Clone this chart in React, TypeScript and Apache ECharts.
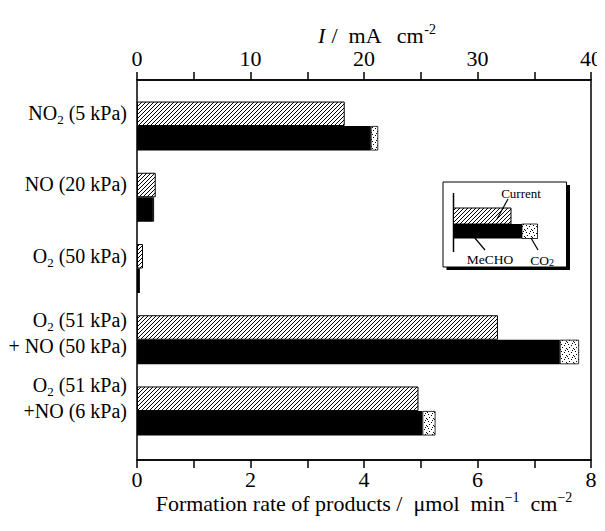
import React, { useEffect, useRef } from 'react';
import * as echarts from 'echarts';

const categories = ['NO2 (5 kPa)', 'NO (20 kPa)', 'O2 (50 kPa)', 'O2 (51 kPa) + NO (50 kPa)', 'O2 (51 kPa) +NO (6 kPa)'];
const categoryLabels = [
  '{t|NO}{sub|2}{t| (5 kPa)}',
  '{t|NO (20 kPa)}',
  '{t|O}{sub|2}{t| (50 kPa)}',
  '{sp| }\n{t|O}{sub|2}{t| (51 kPa)}\n{t|+ NO (50 kPa)}',
  '{t|O}{sub|2}{t| (51 kPa)}\n{t|+NO (6 kPa)}',
];
// current density, mA cm-2 (top axis)
const currentValues = [18.3, 1.65, 0.53, 31.8, 24.8];
// formation rates, umol min-1 cm-2 (bottom axis)
const mechoValues = [4.12, 0.28, 0.04, 7.45, 5.03];
const co2Values = [0.13, 0.02, 0.0, 0.34, 0.23];
const topTickLabels = [0, 10, 20, 30, 40];
const bottomTickLabels = [0, 2, 4, 6, 8];

const FONT = "'Liberation Serif', 'Times New Roman', serif";

function makeHatch(): HTMLCanvasElement {
  const c = document.createElement('canvas');
  c.width = 4;
  c.height = 4;
  const ctx = c.getContext('2d')!;
  ctx.fillStyle = '#fff';
  ctx.fillRect(0, 0, 4, 4);
  ctx.strokeStyle = '#000';
  ctx.lineWidth = 1;
  ctx.beginPath();
  ctx.moveTo(-1, 5); ctx.lineTo(5, -1);
  ctx.moveTo(-1, 1); ctx.lineTo(1, -1);
  ctx.moveTo(3, 5); ctx.lineTo(5, 3);
  ctx.stroke();
  return c;
}

function makeDots(): HTMLCanvasElement {
  const c = document.createElement('canvas');
  c.width = 7;
  c.height = 7;
  const ctx = c.getContext('2d')!;
  ctx.fillStyle = '#fff';
  ctx.fillRect(0, 0, 7, 7);
  ctx.fillStyle = '#000';
  const pts = [[1, 1], [4, 2], [2, 4], [6, 5], [5, 0], [0, 6]];
  pts.forEach(([x, y]) => ctx.fillRect(x, y, 1, 1));
  return c;
}

export default function App() {
  const ref = useRef<HTMLDivElement>(null);
  useEffect(() => {
    if (!ref.current) return;
    const chart = echarts.init(ref.current, null, { renderer: 'svg' });
    const hatch = makeHatch();
    const dots = makeDots();
    const hatchFill: any = { image: hatch, repeat: 'repeat' };
    const dotFill: any = { image: dots, repeat: 'repeat' };
    const labelRich = {
      t: { fontFamily: FONT, fontSize: 20, color: '#000', lineHeight: 26 },
      sub: { fontFamily: FONT, fontSize: 13, color: '#000', lineHeight: 26, verticalAlign: 'bottom' },
      sp: { fontFamily: FONT, fontSize: 10, color: '#000', lineHeight: 13 },
    };
    const option: any = {
      animation: false,
      backgroundColor: '#fff',
      grid: [
        { left: 137, right: 14, top: 80, bottom: 71, show: true, borderColor: '#000', borderWidth: 1.5, backgroundColor: 'transparent' },
        { left: 137, right: 14, top: 90.4, bottom: 84.4, show: false },
      ],
      xAxis: [
        {
          gridIndex: 0, type: 'value', position: 'bottom', min: 0, max: 8, interval: 1,
          axisLine: { show: true, lineStyle: { color: '#000', width: 1.5 } },
          axisTick: { show: true, inside: false, length: 8, lineStyle: { color: '#000', width: 1.5 } },
          axisLabel: {
            formatter: (v: number) => (bottomTickLabels.includes(v) ? String(v) : ''),
            color: '#000', fontFamily: FONT, fontSize: 22, margin: 8,
          },
          splitLine: { show: false },
          name: '{n|Formation rate of products /  μmol  min}{sup|−1}{n|  cm}{sup|−2}',
          nameLocation: 'middle', nameGap: 30, nameMoveOverlap: false,
          nameTextStyle: {
            rich: {
              n: { fontFamily: FONT, fontSize: 22, color: '#000', lineHeight: 24, verticalAlign: 'bottom' },
              sup: { fontFamily: FONT, fontSize: 14, color: '#000', lineHeight: 24, verticalAlign: 'top' },
            },
          },
        },
        {
          gridIndex: 0, type: 'value', position: 'top', min: 0, max: 40, interval: 5,
          axisLine: { show: true, lineStyle: { color: '#000', width: 1.5 } },
          axisTick: { show: true, inside: false, length: 8, lineStyle: { color: '#000', width: 1.5 } },
          axisLabel: {
            formatter: (v: number) => (topTickLabels.includes(v) ? String(v) : ''),
            color: '#000', fontFamily: FONT, fontSize: 22, margin: 11,
          },
          splitLine: { show: false },
          name: '{i|I}{n| /  mA   cm}{sup|-2}',
          nameLocation: 'middle', nameGap: 34, nameMoveOverlap: false,
          nameTextStyle: {
            padding: [0, 0, 0, 26],
            rich: {
              i: { fontFamily: FONT, fontStyle: 'italic', fontSize: 22, color: '#000', lineHeight: 24, verticalAlign: 'bottom' },
              n: { fontFamily: FONT, fontSize: 22, color: '#000', lineHeight: 24, verticalAlign: 'bottom' },
              sup: { fontFamily: FONT, fontSize: 14, color: '#000', lineHeight: 24, verticalAlign: 'top' },
            },
          },
        },
        { gridIndex: 1, type: 'value', min: 0, max: 40, show: false },
        { gridIndex: 1, type: 'value', min: 0, max: 8, show: false },
      ],
      yAxis: [
        { gridIndex: 0, type: 'value', show: false, min: 0, max: 1 },
        {
          gridIndex: 1, type: 'category', data: categories, inverse: true,
          axisLine: { show: false }, axisTick: { show: false }, splitLine: { show: false },
          axisLabel: {
            margin: 10,
            padding: [0, 0, 26, 0],
            formatter: (_v: string, i: number) => categoryLabels[i],
            rich: labelRich,
          },
        },
      ],
      series: [
        {
          name: 'Current', type: 'bar', xAxisIndex: 2, yAxisIndex: 1, data: currentValues,
          barWidth: 24.5, barGap: '0%',
          itemStyle: { color: hatchFill, borderColor: '#000', borderWidth: 1 },
        },
        {
          name: 'MeCHO', type: 'bar', xAxisIndex: 3, yAxisIndex: 1, data: mechoValues, stack: 'rate',
          barWidth: 24.5, barGap: '0%',
          itemStyle: { color: '#000' },
        },
        {
          name: 'CO2', type: 'bar', xAxisIndex: 3, yAxisIndex: 1, data: co2Values, stack: 'rate',
          barWidth: 24.5, barGap: '0%',
          itemStyle: { color: dotFill, borderColor: '#000', borderWidth: 0.8 },
        },
      ],
      graphic: [
        { type: 'rect', shape: { x: 446.5, y: 185, width: 123.5, height: 85 }, style: { fill: '#000' }, z: 10 },
        { type: 'rect', shape: { x: 443, y: 182, width: 123.5, height: 85 }, style: { fill: '#fff', stroke: '#000', lineWidth: 1 }, z: 11 },
        { type: 'line', shape: { x1: 453.5, y1: 193, x2: 453.5, y2: 252 }, style: { stroke: '#000', lineWidth: 1.5 }, z: 12 },
        { type: 'rect', shape: { x: 453.5, y: 208, width: 57.5, height: 16 }, style: { fill: hatchFill, stroke: '#000', lineWidth: 1 }, z: 12 },
        { type: 'rect', shape: { x: 453.5, y: 224, width: 68.5, height: 14.5 }, style: { fill: '#000' }, z: 12 },
        { type: 'rect', shape: { x: 522, y: 224, width: 15.5, height: 14.5 }, style: { fill: dotFill, stroke: '#000', lineWidth: 0.8 }, z: 12 },
        { type: 'line', shape: { x1: 497, y1: 219, x2: 508, y2: 199 }, style: { stroke: '#000', lineWidth: 1.2 }, z: 13 },
        { type: 'line', shape: { x1: 474, y1: 237, x2: 485, y2: 250 }, style: { stroke: '#000', lineWidth: 1.2 }, z: 13 },
        { type: 'line', shape: { x1: 531, y1: 238, x2: 538, y2: 250 }, style: { stroke: '#000', lineWidth: 1.2 }, z: 13 },
        {
          type: 'text', x: 521, y: 193, z: 13,
          style: { text: 'Current', font: `13px ${FONT}`, fill: '#000', textAlign: 'center', textVerticalAlign: 'middle', align: 'center', verticalAlign: 'middle' },
        },
        {
          type: 'text', x: 490, y: 259, z: 13,
          style: { text: 'MeCHO', font: `13.5px ${FONT}`, fill: '#000', textAlign: 'center', textVerticalAlign: 'middle', align: 'center', verticalAlign: 'middle' },
        },
        {
          type: 'text', x: 542, y: 259, z: 13,
          style: {
            text: '{a|CO}{s|2}', fill: '#000', textAlign: 'center', textVerticalAlign: 'middle', align: 'center', verticalAlign: 'middle',
            rich: {
              a: { fontFamily: FONT, fontSize: 13.5, fill: '#000', lineHeight: 16, verticalAlign: 'bottom' },
              s: { fontFamily: FONT, fontSize: 10, fill: '#000', lineHeight: 16, verticalAlign: 'bottom' },
            },
          },
        },
      ],
    };
    chart.setOption(option);
    return () => chart.dispose();
  }, []);
  return <div ref={ref} style={{ width: 605, height: 531, margin: -8 }} />;
}
